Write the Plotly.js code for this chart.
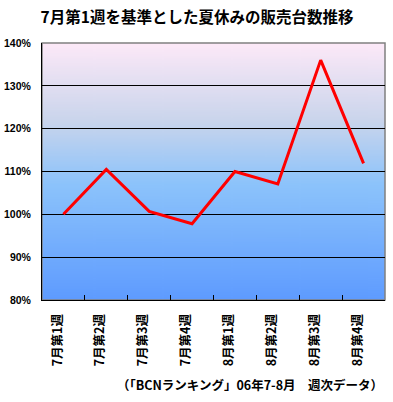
<!DOCTYPE html>
<html>
<head>
<meta charset="utf-8">
<script src="https://cdn.plot.ly/plotly-3.0.1.min.js"></script>
<style>
html,body{margin:0;padding:0;background:#fff;}
#chart{width:393px;height:402px;}
</style>
</head>
<body>
<div id="chart"></div>
<script>
var categories = ['7月第1週','7月第2週','7月第3週','7月第4週','8月第1週','8月第2週','8月第3週','8月第4週'];
var values = [100, 110.5, 100.7, 97.8, 110.0, 107.1, 136.0, 111.9];
var yTicks = [80, 90, 100, 110, 120, 130, 140];
var titleText = '7月第1週を基準とした夏休みの販売台数推移';
var sourceText = '（「BCNランキング」06年7-8月　週次データ）';

function gradientURL(){
  var c = document.createElement('canvas');
  c.width = 10; c.height = 400;
  var g = c.getContext('2d');
  var gr = g.createLinearGradient(0,0,0,400);
  gr.addColorStop(0, '#fde9f8');
  gr.addColorStop(0.3, '#cad5ec');
  gr.addColorStop(0.55, '#8cc3fb');
  gr.addColorStop(1, '#5e9bff');
  g.fillStyle = gr;
  g.fillRect(0,0,10,400);
  return c.toDataURL();
}

var font = 'Noto Sans CJK JP, sans-serif';

var trace = {
  x: categories,
  y: values,
  type: 'scatter',
  mode: 'lines',
  line: {color: '#ff0000', width: 3},
  hoverinfo: 'skip'
};

var layout = {
  width: 393, height: 402,
  margin: {l: 41.5, r: 8, t: 42.5, b: 102, pad: 0},
  paper_bgcolor: '#ffffff',
  plot_bgcolor: 'rgba(0,0,0,0)',
  showlegend: false,
  title: {
    text: '<b>' + titleText + '</b>',
    font: {family: font, size: 15.5, color: '#000'},
    x: 197/393, xref: 'container', xanchor: 'center', y: 1 - 18/402, yanchor: 'middle'
  },
  xaxis: {
    type: 'category',
    range: [-0.5, categories.length - 0.5],
    autorange: false,
    tickangle: -90,
    tickson: 'boundaries',
    ticks: 'inside', ticklen: 5, tickcolor: '#000', tickwidth: 1,
    showline: true, linecolor: '#000', linewidth: 1,
    showgrid: false, zeroline: false,
    tickfont: {family: font, size: 12.5, color: '#000', weight: 'bold'},
    ticklabelstandoff: 8,
    ticklabelshift: -6,
    fixedrange: true
  },
  yaxis: {
    range: [80, 140],
    tickvals: yTicks,
    ticktext: yTicks.map(function(v){return v + '%';}),
    showgrid: true, gridcolor: '#000', gridwidth: 1,
    showline: true, linecolor: '#000', linewidth: 1,
    zeroline: false,
    ticks: '',
    tickfont: {family: 'Liberation Sans, Arial, sans-serif', size: 10.5, color: '#000', weight: 'bold'},
    ticklabelstandoff: 8,
    fixedrange: true
  },
  images: [{
    source: gradientURL(),
    xref: 'paper', yref: 'paper',
    x: 0, y: 1, sizex: 1, sizey: 1,
    xanchor: 'left', yanchor: 'top',
    sizing: 'stretch', layer: 'below'
  }],
  shapes: [{
    type: 'rect', xref: 'paper', yref: 'paper',
    x0: 0, x1: 1, y0: 0, y1: 1,
    line: {color: '#808080', width: 1.5},
    fillcolor: 'rgba(0,0,0,0)', layer: 'below'
  }],
  annotations: [{
    text: '<b>' + sourceText + '</b>',
    xref: 'paper', yref: 'paper',
    x: 1.0, y: -85/257.5,
    xanchor: 'right', yanchor: 'middle',
    showarrow: false,
    font: {family: font, size: 12.5, color: '#000'}
  }]
};

Plotly.newPlot('chart', [trace], layout, {displayModeBar: false, staticPlot: true});
</script>
</body>
</html>
